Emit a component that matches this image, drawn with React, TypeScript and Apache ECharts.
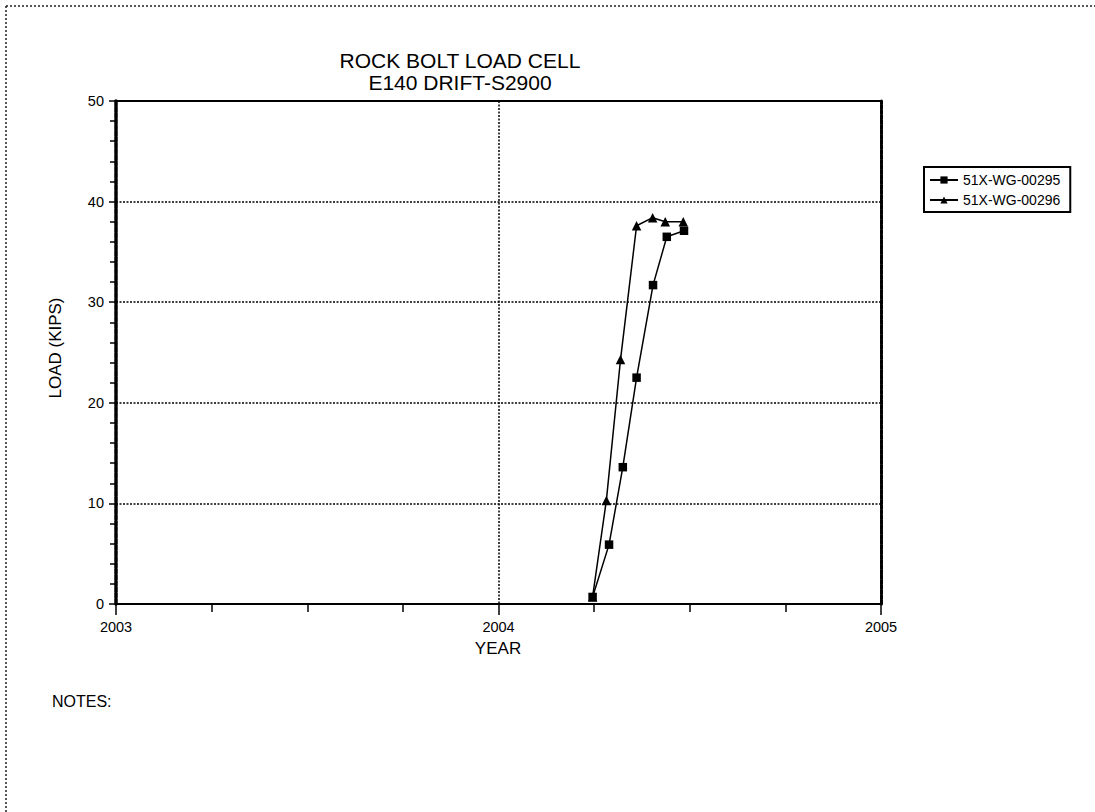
import React, { useEffect, useRef } from "react";
import * as echarts from "echarts";

const seriesNames = ["51X-WG-00295", "51X-WG-00296"];
const s1X = [2004.246, 2004.289, 2004.325, 2004.361, 2004.404, 2004.44, 2004.485];
const s1Y = [0.7, 5.9, 13.6, 22.5, 31.7, 36.5, 37.1];
const s2X = [2004.246, 2004.282, 2004.319, 2004.361, 2004.403, 2004.436, 2004.483];
const s2Y = [0.7, 10.3, 24.3, 37.6, 38.4, 38.0, 38.0];
const xTicks = [2003, 2004, 2005];
const yRange = [0, 50];

const FONT = "'Liberation Sans', Arial, sans-serif";

export default function App() {
  const ref = useRef<HTMLDivElement>(null);
  useEffect(() => {
    document.body.style.margin = "0";
    const chart = echarts.init(ref.current!, undefined, { renderer: "svg" });
    const pair = (xs: number[], ys: number[]) => xs.map((x, i) => [x, ys[i]]);
    const gridLine = { show: true, lineStyle: { color: "#000", type: [2, 1.5] as any, width: 1.5 } };
    chart.setOption({
      animation: false,
      backgroundColor: "#fff",
      textStyle: { fontFamily: FONT },
      grid: { left: 116, top: 101, right: 214, bottom: 208, containLabel: false },
      xAxis: [
        {
          type: "value",
          min: xTicks[0],
          max: xTicks[xTicks.length - 1],
          interval: 1,
          axisLine: { show: true, onZero: false, lineStyle: { color: "#000", width: 2 } },
          axisTick: { show: true, length: 11, lineStyle: { color: "#000", width: 1.5 } },
          minorTick: { show: true, splitNumber: 4, length: 8, lineStyle: { color: "#000", width: 1.5 } },
          axisLabel: { color: "#000", fontSize: 14.5, fontFamily: FONT, margin: 15, formatter: (v: number) => String(v) },
          splitLine: gridLine,
        },
        {
          type: "value",
          position: "top",
          min: xTicks[0],
          max: xTicks[xTicks.length - 1],
          interval: 1,
          axisLine: { show: true, onZero: false, lineStyle: { color: "#000", width: 2 } },
          axisTick: { show: false },
          axisLabel: { show: false },
          splitLine: { show: false },
        },
      ],
      yAxis: [
        {
          type: "value",
          min: yRange[0],
          max: yRange[1],
          interval: 10,
          axisLine: { show: true, onZero: false, lineStyle: { color: "#000", width: 3.5, type: [5, 1] as any } },
          axisTick: { show: true, length: 7, lineStyle: { color: "#000", width: 1.5 } },
          minorTick: { show: true, splitNumber: 5, length: 6, lineStyle: { color: "#000", width: 1.5 } },
          axisLabel: { color: "#000", fontSize: 14.5, fontFamily: FONT, margin: 12 },
          splitLine: gridLine,
        },
        {
          type: "value",
          position: "right",
          min: yRange[0],
          max: yRange[1],
          interval: 10,
          axisLine: { show: true, onZero: false, lineStyle: { color: "#000", width: 3, type: [4, 1] as any } },
          axisTick: { show: false },
          axisLabel: { show: false },
          splitLine: { show: false },
        },
      ],
      legend: {
        orient: "vertical",
        left: 924,
        top: 167,
        width: 147,
        borderColor: "#000",
        borderWidth: 2,
        padding: [6, 10, 5, 5],
        itemGap: 6,
        itemWidth: 28,
        itemHeight: 9,
        textStyle: { color: "#000", fontSize: 14, fontFamily: FONT },
        data: seriesNames,
      },
      series: [
        {
          name: seriesNames[0],
          type: "line",
          xAxisIndex: 0,
          yAxisIndex: 0,
          data: pair(s1X, s1Y),
          symbol: "rect",
          symbolSize: 8.5,
          itemStyle: { color: "#000" },
          lineStyle: { color: "#000", width: 1.5 },
        },
        {
          name: seriesNames[1],
          type: "line",
          xAxisIndex: 0,
          yAxisIndex: 0,
          data: pair(s2X, s2Y),
          symbol: "triangle",
          symbolSize: 9.5,
          itemStyle: { color: "#000" },
          lineStyle: { color: "#000", width: 1.5 },
        },
      ],
      graphic: [
        { type: "line", shape: { x1: 6, y1: 6, x2: 1095, y2: 6 }, style: { stroke: "#222", lineWidth: 1.5, lineDash: [2, 2] } },
        { type: "line", shape: { x1: 6, y1: 6, x2: 6, y2: 812 }, style: { stroke: "#222", lineWidth: 1.5, lineDash: [2, 2] } },
        { type: "text", x: 460, y: 60, style: { text: "ROCK BOLT LOAD CELL", fontSize: 21, fontFamily: FONT, fill: "#000", textAlign: "center", textVerticalAlign: "middle" } },
        { type: "text", x: 460, y: 82, style: { text: "E140 DRIFT-S2900", fontSize: 21, fontFamily: FONT, fill: "#000", textAlign: "center", textVerticalAlign: "middle" } },
        { type: "text", x: 498, y: 648, style: { text: "YEAR", fontSize: 17, fontFamily: FONT, fill: "#000", textAlign: "center", textVerticalAlign: "middle" } },
        { type: "text", x: 55, y: 348, rotation: Math.PI / 2, style: { text: "LOAD (KIPS)", fontSize: 17, fontFamily: FONT, fill: "#000", textAlign: "center", textVerticalAlign: "middle" } },
        { type: "text", x: 52, y: 701, style: { text: "NOTES:", fontSize: 16, fontFamily: FONT, fill: "#000", textAlign: "left", textVerticalAlign: "middle" } },
      ],
    });
    return () => chart.dispose();
  }, []);
  return <div ref={ref} style={{ position: "absolute", left: 0, top: 0, width: 1095, height: 812 }} />;
}
